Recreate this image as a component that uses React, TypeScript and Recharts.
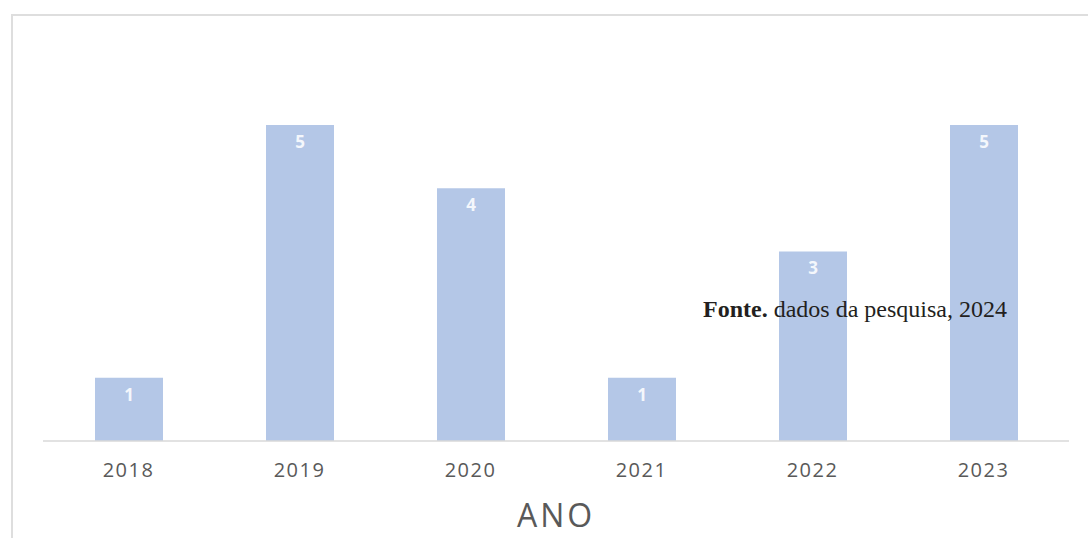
import React from "react";
import { BarChart, Bar, XAxis, YAxis, LabelList } from "recharts";

const years = ["2018", "2019", "2020", "2021", "2022", "2023"];
const counts = [1, 5, 4, 1, 3, 5];
const axisTitle = "ANO";

const data = years.map((y, i) => ({ ano: y, valor: counts[i] }));

export default function App() {
  return (
    <div style={{ position: "fixed", left: 0, top: 0, width: 1088, height: 538, background: "#fff", overflow: "hidden" }}>
      <div
        style={{
          position: "absolute",
          left: 11,
          top: 14,
          width: 1200,
          height: 700,
          border: "2px solid #dedede",
          boxSizing: "border-box",
        }}
      />
      <div style={{ position: "absolute", left: 1, top: 0 }}>
        <BarChart width={1088} height={538} data={data} margin={{ top: 125, right: 20, bottom: 0, left: 42 }}>
          <XAxis
            dataKey="ano"
            height={97}
            axisLine={{ stroke: "#d9d9d9", strokeWidth: 1.5 }}
            tickLine={false}
            tick={{ fill: "#595959", fontSize: 20, fontFamily: "Open Sans", letterSpacing: 1.5 }}
            tickMargin={16}
            label={{
              value: axisTitle,
              position: "insideBottom",
              offset: 11,
              fill: "#595959",
              fontSize: 32,
              fontFamily: "Open Sans",
              letterSpacing: 3,
            }}
          />
          <YAxis hide domain={[0, 5]} />
          <Bar dataKey="valor" fill="#b4c7e7" barSize={68} isAnimationActive={false}>
            <LabelList
              dataKey="valor"
              position="insideTop"
              offset={11}
              fill="#f4f7fc"
              fontSize={17}
              fontWeight="bold"
              fontFamily="Open Sans"
            />
          </Bar>
        </BarChart>
      </div>
      <div
        style={{
          position: "absolute",
          left: 703,
          top: 295,
          fontFamily: "'Liberation Serif', 'Times New Roman', serif",
          fontSize: 24,
          color: "#231f20",
          whiteSpace: "nowrap",
          lineHeight: "28px",
        }}
      >
        <b>Fonte.</b> dados da pesquisa, 2024
      </div>
    </div>
  );
}
